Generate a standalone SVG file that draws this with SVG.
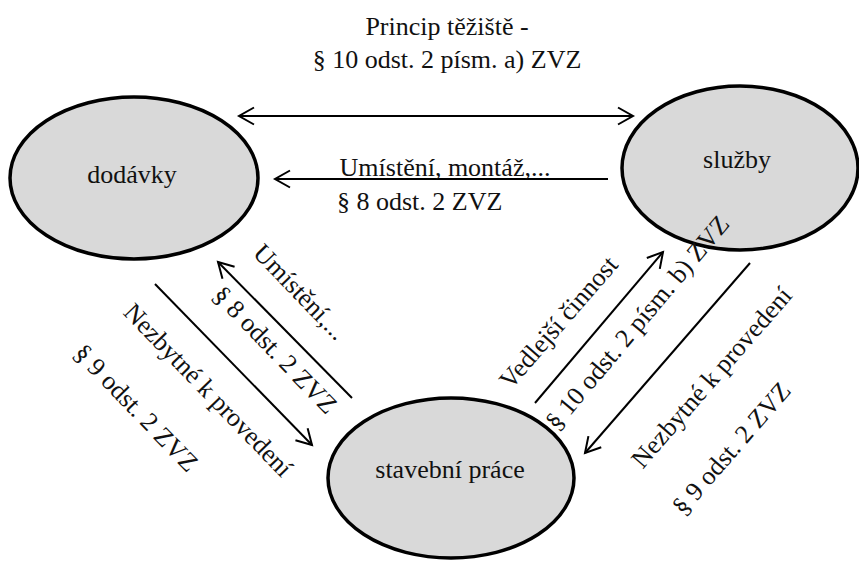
<svg xmlns="http://www.w3.org/2000/svg" width="859" height="561" viewBox="0 0 859 561">
<style>
text { font-family: "Liberation Serif", "Times New Roman", serif; font-size: 26px; fill: #111; }
.mid { text-anchor: middle; }
.node { fill: #d9d9d9; stroke: #000; stroke-width: 3.5; }
.conn { stroke: #000; stroke-width: 2; fill: none; }
</style>
<defs>
<marker id="arr" markerUnits="userSpaceOnUse" markerWidth="40" markerHeight="40" viewBox="-20 -20 40 40" refX="0" refY="0" orient="auto-start-reverse">
<path d="M-15,-8.5 L0,0 L-15,8.5" fill="none" stroke="#000" stroke-width="2"/>
</marker>
</defs>
<rect width="859" height="561" fill="#fff"/>
<g id="title">
<text class="mid" x="447" y="35">Princip těžiště -</text>
<text class="mid" x="447" y="68">§ 10 odst. 2 písm. a) ZVZ</text>
</g>
<g id="dodavky">
<ellipse class="node" cx="134" cy="178" rx="124" ry="81"/>
<text class="mid" x="132" y="183">dodávky</text>
</g>
<g id="sluzby">
<ellipse class="node" cx="740" cy="168" rx="118" ry="82"/>
<text class="mid" x="737" y="168">služby</text>
</g>
<g id="stavebni">
<ellipse class="node" cx="451" cy="478" rx="123" ry="80"/>
<text class="mid" x="450" y="478">stavební práce</text>
</g>
<g id="connectors">
<line class="conn" x1="239" y1="116" x2="633" y2="116" marker-start="url(#arr)" marker-end="url(#arr)"/>
<line class="conn" x1="608" y1="179" x2="275" y2="179" marker-end="url(#arr)"/>
<line class="conn" x1="352" y1="398" x2="218" y2="262" marker-end="url(#arr)"/>
<line class="conn" x1="155" y1="284" x2="312" y2="445" marker-end="url(#arr)"/>
<line class="conn" x1="535" y1="403" x2="663" y2="252" marker-end="url(#arr)"/>
<line class="conn" x1="750" y1="263" x2="585" y2="453" marker-end="url(#arr)"/>
</g>
<g id="labels">
<text class="mid" x="445" y="176">Umístění, montáž,...</text>
<text x="337" y="210">§ 8 odst. 2 ZVZ</text>
<text class="mid" transform="translate(294,298) rotate(46)" x="0" y="0">Umístění,...</text>
<text class="mid" transform="translate(269,356) rotate(46)" x="0" y="0">§ 8 odst. 2 ZVZ</text>
<text class="mid" transform="translate(202,396) rotate(46)" x="0" y="0">Nezbytné k provedení</text>
<text class="mid" transform="translate(130,414) rotate(46)" x="0" y="0">§ 9 odst. 2 ZVZ</text>
<text class="mid" transform="translate(565,328) rotate(-49)" x="0" y="0">Vedlejší činnost</text>
<text class="mid" transform="translate(644,328) rotate(-50)" x="0" y="0">§ 10 odst. 2 písm. b) ZVZ</text>
<text class="mid" transform="translate(718,383) rotate(-49)" x="0" y="0">Nezbytné k provedení</text>
<text class="mid" transform="translate(738,454) rotate(-49)" x="0" y="0">§ 9 odst. 2 ZVZ</text>
</g>
</svg>
